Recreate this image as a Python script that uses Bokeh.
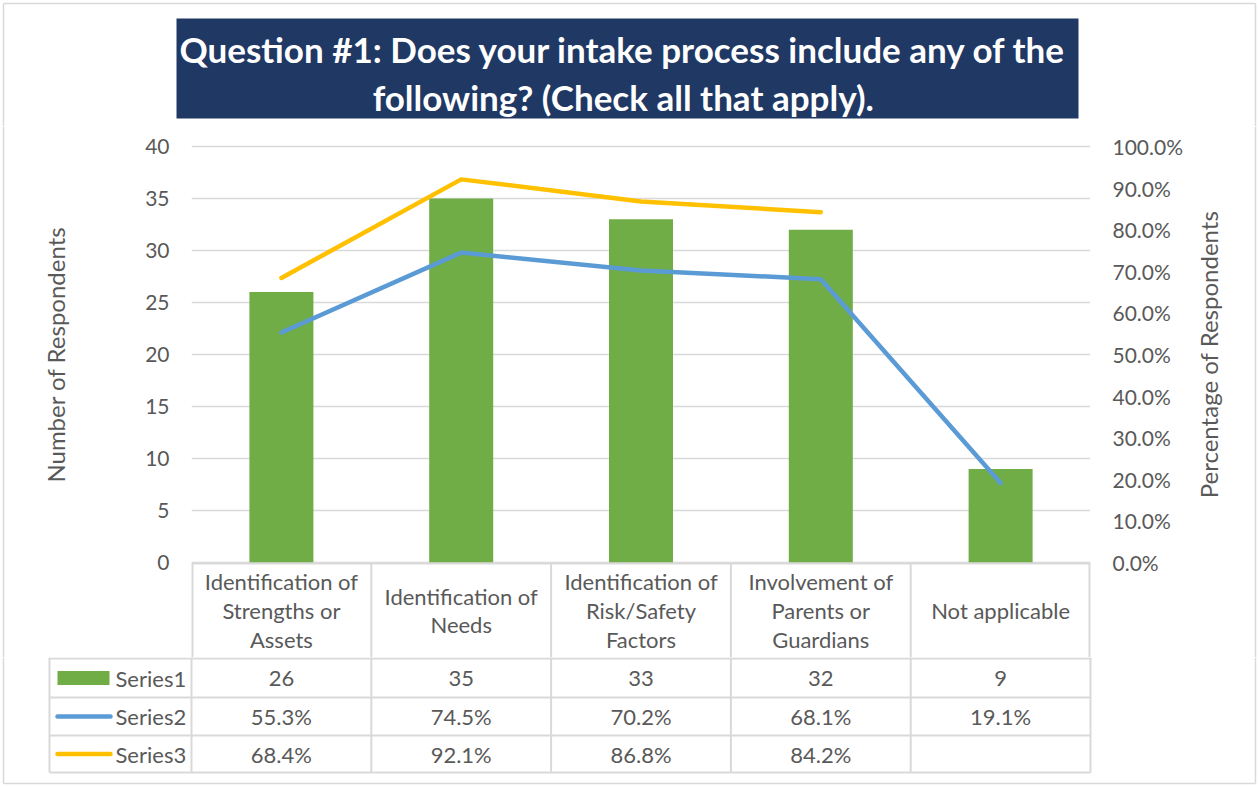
import numpy as np
from bokeh.plotting import figure
from bokeh.models import Range1d, FactorRange, LinearAxis, FixedTicker, PrintfTickFormatter
from bokeh.layouts import column, row
from bokeh.core.properties import value
from bokeh.embed import file_html
from bokeh.resources import INLINE

# ---------------- data ----------------
categories = ["Identification of Strengths or Assets", "Identification of Needs",
              "Identification of Risk/Safety Factors", "Involvement of Parents or Guardians",
              "Not applicable"]
category_labels = ["Identification of\nStrengths or\nAssets", "Identification of\nNeeds",
                   "Identification of\nRisk/Safety\nFactors", "Involvement of\nParents or\nGuardians",
                   "Not applicable"]
series_names = ["Series1", "Series2", "Series3"]
series1 = [26, 35, 33, 32, 9]
series2 = [55.3, 74.5, 70.2, 68.1, 19.1]
series3 = [68.4, 92.1, 86.8, 84.2, None]
count_ticks = [0, 5, 10, 15, 20, 25, 30, 35, 40]
pct_ticks = [0, 10, 20, 30, 40, 50, 60, 70, 80, 90, 100]
title_lines = ["Question #1:  Does your intake process include any of the",
               "following?  (Check all that apply)."]
left_title = "Number of Respondents"
right_title = "Percentage of Respondents"

# ---------------- style / layout ----------------
FONT = value("Lato")
GRAY_TXT = "#595959"
LINE_GRAY = "#d9d9d9"
NAVY = "#203864"
GREEN = "#70AD47"
BLUE = "#5B9BD5"
GOLD = "#FFC000"

W, H = 1258, 786
TITLE_H = 126
LEFT_W, RIGHT_X = 100, 1195
FRAME_L, FRAME_R = 191, 1090
Y0_PX, YMAX_PX = 562, 146
HEADER_TOP, HEADER_BOTTOM = 563, 657
ROW_LINES = [697, 735, 772]
TABLE_LEFT = 49
BORDER = [3, 1255, 3, 783]  # left, right, top, bottom
N = len(categories)
CAT_W = (FRAME_R - FRAME_L) / N
PX_PER_COUNT = (Y0_PX - YMAX_PX) / max(count_ticks)
PX_PER_PCT = (Y0_PX - YMAX_PX) / max(pct_ticks)


def base_fig(**kw):
    p = figure(output_backend="svg", toolbar_location=None, **kw)
    p.background_fill_color = "white"
    p.border_fill_color = "white"
    p.outline_line_color = None
    return p


def bare_fig(width, height, x_range, y_range):
    p = base_fig(width=width, height=height, x_range=x_range, y_range=y_range,
                 x_axis_location=None, y_axis_location=None, min_border=0)
    p.grid.visible = False
    return p


BL, BR, BT, BB = BORDER

# ---------------- title ----------------
pt = bare_fig(W, TITLE_H, Range1d(0, W), Range1d(TITLE_H, 0))
pt.quad(left=176, right=1078, top=18, bottom=118, fill_color=NAVY, line_color=None)
pt.text(x=[627, 627], y=[48, 96], text=title_lines, text_font=FONT, text_font_style="bold",
        text_font_size="35px", text_color="white", text_align="center",
        text_baseline="middle")
pt.segment(x0=[BL, BR, BL], y0=[BT, BT, BT], x1=[BL, BR, BR], y1=[TITLE_H, TITLE_H, BT],
           line_color=LINE_GRAY, line_width=1.5)

# ---------------- left axis title ----------------
pl = bare_fig(LEFT_W, HEADER_BOTTOM - TITLE_H, Range1d(0, LEFT_W), Range1d(HEADER_BOTTOM, TITLE_H))
pl.text(x=[55], y=[(Y0_PX + YMAX_PX) / 2], text=[left_title], angle=np.pi / 2,
        text_font=FONT, text_font_size="24px", text_color=GRAY_TXT,
        text_align="center", text_baseline="middle")
pl.segment(x0=[BL], y0=[TITLE_H], x1=[BL], y1=[HEADER_BOTTOM], line_color=LINE_GRAY, line_width=1.5)

# ---------------- right axis title ----------------
pr = bare_fig(W - RIGHT_X, HEADER_BOTTOM - TITLE_H, Range1d(RIGHT_X, W), Range1d(HEADER_BOTTOM, TITLE_H))
pr.text(x=[1208], y=[(Y0_PX + YMAX_PX) / 2], text=[right_title], angle=np.pi / 2,
        text_font=FONT, text_font_size="24px", text_color=GRAY_TXT,
        text_align="center", text_baseline="middle")
pr.segment(x0=[BR], y0=[TITLE_H], x1=[BR], y1=[HEADER_BOTTOM], line_color=LINE_GRAY, line_width=1.5)

# ---------------- main chart ----------------
def cy(px):
    return (Y0_PX - px) / PX_PER_COUNT

def cpct(px):
    return (Y0_PX - px) / PX_PER_PCT

pb = base_fig(width=RIGHT_X - LEFT_W, height=HEADER_BOTTOM - TITLE_H,
              x_range=FactorRange(factors=categories),
              y_range=Range1d(cy(HEADER_BOTTOM), cy(TITLE_H)),
              x_axis_location=None, y_axis_location="left",
              min_border_left=FRAME_L - LEFT_W, min_border_right=RIGHT_X - FRAME_R,
              min_border_top=0, min_border_bottom=0)
pb.extra_y_ranges = {"pct": Range1d(cpct(HEADER_BOTTOM), cpct(TITLE_H))}
right_axis = LinearAxis(y_range_name="pct", ticker=FixedTicker(ticks=pct_ticks),
                        formatter=PrintfTickFormatter(format="%.1f%%"))
pb.add_layout(right_axis, "right")
pb.yaxis[0].ticker = FixedTicker(ticks=count_ticks)
for ax in pb.yaxis:
    ax.axis_line_color = None
    ax.major_tick_line_color = None
    ax.minor_tick_line_color = None
    ax.major_tick_in = 0
    ax.major_tick_out = 0
    ax.major_label_standoff = 22
    ax.major_label_text_font = "Lato"
    ax.major_label_text_font_size = "21px"
    ax.major_label_text_color = GRAY_TXT
pb.xgrid.visible = False
pb.ygrid.grid_line_color = LINE_GRAY
pb.ygrid.grid_line_width = 1.5

pb.vbar(x=categories, top=series1, width=64 / CAT_W, fill_color=GREEN, line_color=None)
pb.line(x=categories, y=series2, y_range_name="pct", line_color=BLUE, line_width=4.5,
        line_cap="round", line_join="round")
pb.line(x=categories, y=np.array(series3, dtype=float), y_range_name="pct", line_color=GOLD,
        line_width=4.5, line_cap="round", line_join="round")

# table header (category labels)
bounds = np.arange(N + 1)
pb.segment(x0=[0], y0=[cy(HEADER_TOP)], x1=[N], y1=[cy(HEADER_TOP)], line_color=LINE_GRAY, line_width=2)
pb.segment(x0=bounds, y0=[cy(HEADER_TOP)] * (N + 1), x1=bounds, y1=[cy(HEADER_BOTTOM)] * (N + 1),
           line_color=LINE_GRAY, line_width=[4] + [2] * (N - 1) + [4])
pb.text(x=categories, y=[cy((HEADER_TOP + HEADER_BOTTOM) / 2)] * N, text=category_labels,
        text_font=FONT, text_font_size="22px", text_color=GRAY_TXT, text_align="center",
        text_baseline="middle", text_line_height=1.06)

# ---------------- data table ----------------
def xcat(px):
    return (px - FRAME_L) / CAT_W

ptab = bare_fig(W, H - HEADER_BOTTOM, Range1d(xcat(0), xcat(W)), Range1d(H, HEADER_BOTTOM))
hl_y = [HEADER_BOTTOM + 1] + ROW_LINES
ptab.segment(x0=[xcat(TABLE_LEFT)] * 4, y0=hl_y, x1=[N] * 4, y1=hl_y, line_color=LINE_GRAY, line_width=2)
vx = [xcat(TABLE_LEFT)] + list(bounds)
ptab.segment(x0=vx, y0=[HEADER_BOTTOM] * len(vx), x1=vx, y1=[ROW_LINES[-1]] * len(vx),
             line_color=LINE_GRAY, line_width=2)

row_tops = [HEADER_BOTTOM + 1] + ROW_LINES[:-1]
row_mid = [(a + b) / 2 for a, b in zip(row_tops, ROW_LINES)]
centers = bounds[:-1] + 0.5
table_text = [
    [str(v) for v in series1],
    [f"{v:.1f}%" for v in series2],
    ["" if v is None else f"{v:.1f}%" for v in series3],
]
for r, texts in enumerate(table_text):
    ptab.text(x=centers, y=[row_mid[r]] * N, text=texts, text_font=FONT, text_font_size="22px",
              text_color=GRAY_TXT, text_align="center", text_baseline="middle")
ptab.text(x=[xcat(115)] * 3, y=row_mid, text=series_names, text_font=FONT, text_font_size="22px",
          text_color=GRAY_TXT, text_align="left", text_baseline="middle")
# legend keys
ptab.quad(left=xcat(57), right=xcat(109), top=row_mid[0] - 7, bottom=row_mid[0] + 7,
          fill_color=GREEN, line_color=None)
ptab.segment(x0=[xcat(57)] * 2, y0=row_mid[1:], x1=[xcat(110)] * 2, y1=row_mid[1:],
             line_color=[BLUE, GOLD], line_width=4.5, line_cap="round")
# outer border
ptab.segment(x0=[xcat(BL), xcat(BR), xcat(BL)], y0=[HEADER_BOTTOM, HEADER_BOTTOM, BB],
             x1=[xcat(BL), xcat(BR), xcat(BR)], y1=[BB, BB, BB],
             line_color=LINE_GRAY, line_width=1.5)

layout = column(pt, row(pl, pb, pr), ptab)
open("out.html", "w").write(file_html(layout, INLINE))
